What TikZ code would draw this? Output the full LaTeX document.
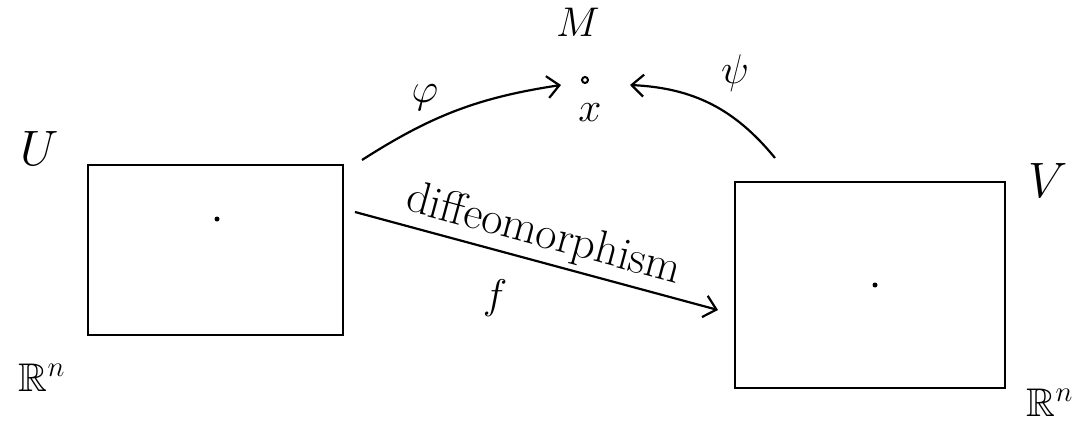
\documentclass[tikz,border=0pt]{standalone}
\usepackage{amsmath,amssymb}
\usepackage{tikz}
\usetikzlibrary{arrows.meta,positioning}
\tikzset{
  chartbox/.style={draw=black, line width=1.3pt, minimum width=#1, inner sep=0pt},
  pointmark/.style={draw=black, fill=white, line width=1pt, circle, inner sep=0pt, minimum size=3pt},
  centremark/.style={fill=black, circle, inner sep=0pt, minimum size=2.5pt},
  spacelabel/.style={font=\fontsize{24}{28}\selectfont},
  maplabel/.style={font=\fontsize{20}{24}\selectfont},
  maparrow/.style={-{Straight Barb[length=6pt,width=11pt,line width=1.1pt]}, line width=1.1pt, draw=black}
}
\begin{document}
\begin{tikzpicture}[x=0.5pt, y=0.5pt]
    \useasboundingbox[fill=white] (0,0) rectangle (1081,424);
    % charts
    \node[chartbox=127.5pt, minimum height=85pt] (Ubox) at (215.5,174) {};
    \node[chartbox=135pt, minimum height=103pt] (Vbox) at (870,139) {};
    \node[centremark] (udot) at (217,205) {};
    \node[centremark] (vdot) at (875,139) {};
    \node[spacelabel] (Ulabel) at (40,276) {$U$};
    \node[spacelabel] (Vlabel) at (1048,244) {$V$};
    \node[maplabel] (Rleft) at (42,46) {$\mathbb{R}^n$};
    \node[maplabel] (Rright) at (1050,21) {$\mathbb{R}^n$};
    % manifold point
    \node[maplabel] (Mlabel) at (578,402) {$M$};
    \node[pointmark] (xpt) at (585,344) {};
    \node[maplabel] (xlabel) at (590,311) {$x$};
    % maps
    \coordinate (phistart) at (362,264);
    \coordinate (phiend) at (561,339);
    \coordinate (psistart) at (775,266);
    \coordinate (psiend) at (630,339);
    \coordinate (fstart) at (355,212);
    \coordinate (fend) at (718,114);
    \draw[maparrow] (phistart) to[bend left=12] (phiend);
    \draw[maparrow] (psistart) to[bend right=24] (psiend);
    \draw[maparrow] (fstart) -- node[font=\fontsize{23}{26}\selectfont, sloped, above=-1pt] (difflabel) {diffeomorphism} (fend);
    \node[maplabel] (philabel) at (425,326) {$\varphi$};
    \node[maplabel] (psilabel) at (735,351) {$\psi$};
    \node[maplabel] (flabel) at (495,126) {$f$};
\end{tikzpicture}
\end{document}
